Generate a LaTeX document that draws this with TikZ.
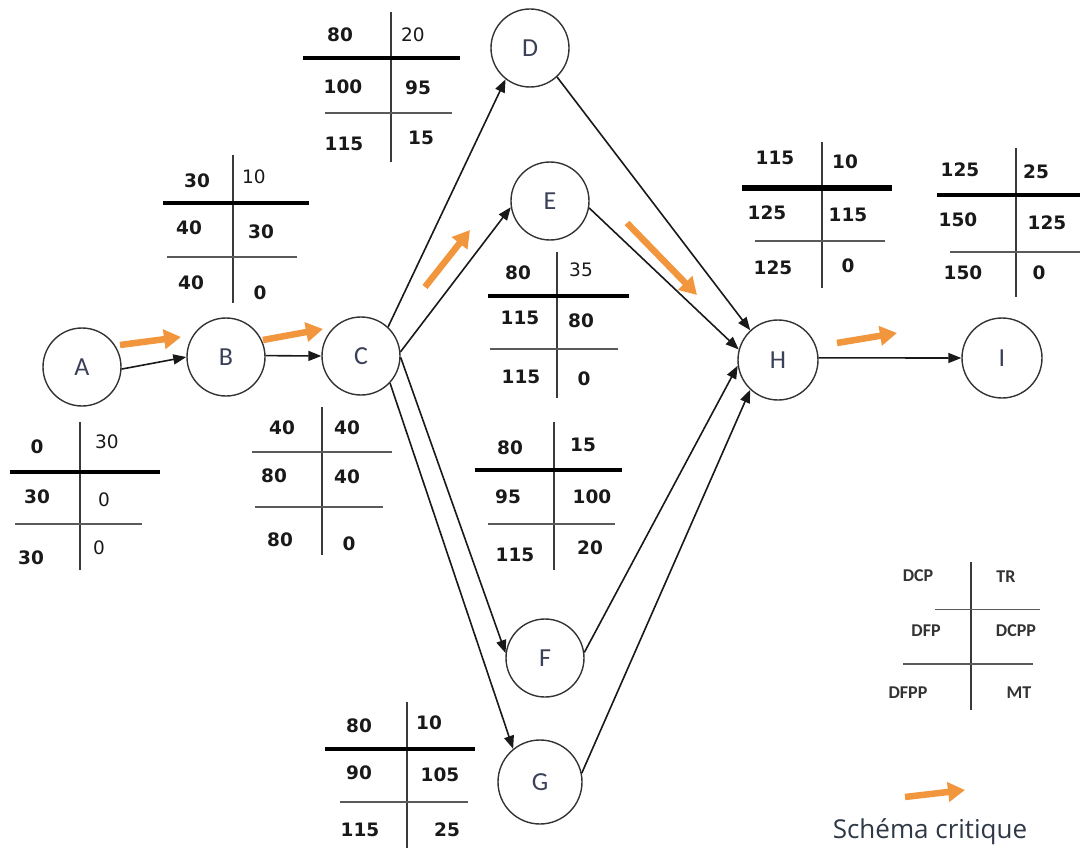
\documentclass[tikz,border=0pt]{standalone}
\usepackage{fontspec}
\usetikzlibrary{arrows.meta}
\newfontfamily\numfont{DejaVu Sans}
\newfontfamily\letfont{Carlito}
\newfontfamily\capfont{Open Sans}
\definecolor{critorange}{HTML}{F2963E}
\definecolor{lettercol}{HTML}{3A4058}
\definecolor{capcol}{HTML}{2E3846}
\definecolor{rulegray}{HTML}{3A3A3A}
\definecolor{thingray}{HTML}{5A5A5A}

\begin{document}
\begin{tikzpicture}[x=1pt,y=-1pt,
  evt/.style={circle, draw=black!80, line width=1.4pt, minimum size=#1,
    inner sep=0pt, font=\letfont\fontsize{26}{28}\selectfont, text=lettercol},
  evt/.default=78pt,
  link/.style={draw=black!90, line width=1.6pt, -{Triangle[length=13pt,width=10pt]}},
  crit/.style={draw=critorange, line width=6.5pt, -{Triangle[length=17pt,width=19pt]}},
  vrule/.style={draw=rulegray, line width=2.2pt},
  hthick/.style={draw=black, line width=4.5pt},
  hthin/.style={draw=thingray, line width=1.6pt},
  num/.style={font=\numfont\bfseries\fontsize{18.5}{20}\selectfont, text=black!90, inner sep=0pt},
  numl/.style={font=\numfont\fontsize{18.5}{20}\selectfont, text=black!90, inner sep=0pt},
  leg/.style={font=\letfont\bfseries\fontsize{18}{20}\selectfont, text=black!80, inner sep=0pt}]

\useasboundingbox (0,0) rectangle (1080,848);

% events
\node[evt] (A) at (82,367) {A};
\node[evt] (B) at (226,357) {B};
\node[evt] (C) at (361,356) {C};
\node[evt] (D) at (530,48) {D};
\node[evt] (E) at (550,201) {E};
\node[evt] (F) at (545,658) {F};
\node[evt=84pt] (G) at (540,782) {G};
\node[evt=80pt] (H) at (778,360) {H};
\node[evt=80pt] (I) at (1002,358) {I};

% tasks
\draw[link] (A.-3) -- (B.180);
\draw[link] (B.2) -- (C.180);
\draw[link] (C.47) -- (D.232);
\draw[link] (C.6) -- (E.189);
\draw[link] (C.-2) -- (F.173);
\draw[link] (C.-43) -- (G.129);
\draw[link] (D.-47) -- (H.133);
\draw[link] (E.-10) -- (H.165);
\draw[link] (F.8) -- (H.188);
\draw[link] (G.12) -- (H.227);
\draw[link] (H.3) -- (I.180);

% critical path markers
\draw[crit] (120,345) -- (181,337);
\draw[crit] (263,340) -- (323,329);
\draw[crit] (425,287) -- (470,230);
\draw[crit] (627,223) -- (697,295);
\draw[crit] (837,343) -- (897,333);

% table A
\draw[vrule] (80,422) -- (80,570);
\draw[hthick] (10,472) -- (160,472);
\draw[hthin] (15,524) -- (142,524);
\node[num]  (a1) at (37,447) {0};
\node[numl] (a2) at (107,442) {30};
\node[num]  (a3) at (37,497) {30};
\node[numl] (a4) at (104,500) {0};
\node[num]  (a5) at (31,558) {30};
\node[numl] (a6) at (99,548) {0};

% table B
\draw[vrule] (233,155) -- (233,303);
\draw[hthick] (163,203) -- (309,203);
\draw[hthin] (167,257) -- (297,257);
\node[num]  (b1) at (197,181) {30};
\node[numl] (b2) at (254,177) {10};
\node[num]  (b3) at (189,228) {40};
\node[num]  (b4) at (261,232) {30};
\node[num]  (b5) at (191,283) {40};
\node[num]  (b6) at (260,293) {0};

% table C
\draw[vrule] (322,407) -- (322,555);
\draw[hthin] (252,452) -- (392,452);
\draw[hthin] (255,507) -- (383,507);
\node[num] (c1) at (282,428) {40};
\node[num] (c2) at (347,428) {40};
\node[num] (c3) at (274,476) {80};
\node[num] (c4) at (347,477) {40};
\node[num] (c5) at (280,540) {80};
\node[num] (c6) at (349,544) {0};

% table D
\draw[vrule] (391,12) -- (391,162);
\draw[hthick] (303,58) -- (460,58);
\draw[hthin] (325,113) -- (452,113);
\node[num]  (d1) at (340,35) {80};
\node[numl] (d2) at (413,35) {20};
\node[num]  (d3) at (343,87) {100};
\node[num]  (d4) at (418,88) {95};
\node[num]  (d5) at (344,144) {115};
\node[num]  (d6) at (421,138) {15};

% table E
\draw[vrule] (557,252) -- (557,398);
\draw[hthick] (488,296) -- (629,296);
\draw[hthin] (490,349) -- (618,349);
\node[num]  (e1) at (518,273) {80};
\node[numl] (e2) at (581,270) {35};
\node[num]  (e3) at (520,318) {115};
\node[num]  (e4) at (581,321) {80};
\node[num]  (e5) at (521,377) {115};
\node[num]  (e6) at (584,379) {0};

% table F
\draw[vrule] (554,422) -- (554,570);
\draw[hthick] (475,470) -- (622,470);
\draw[hthin] (488,524) -- (615,524);
\node[num] (f1) at (510,448) {80};
\node[num] (f2) at (583,445) {15};
\node[num] (f3) at (508,497) {95};
\node[num] (f4) at (592,497) {100};
\node[num] (f5) at (515,555) {115};
\node[num] (f6) at (590,548) {20};

% table G
\draw[vrule] (407,702) -- (407,848);
\draw[hthick] (325,749) -- (475,749);
\draw[hthin] (340,802) -- (468,802);
\node[num] (g1) at (359,726) {80};
\node[num] (g2) at (429,723) {10};
\node[num] (g3) at (359,773) {90};
\node[num] (g4) at (440,775) {105};
\node[num] (g5) at (360,830) {115};
\node[num] (g6) at (447,830) {25};

% table H
\draw[vrule] (822,142) -- (822,288);
\draw[hthick, line width=6pt] (742,188) -- (892,188);
\draw[hthin] (755,241) -- (885,241);
\node[num] (h1) at (775,158) {115};
\node[num] (h2) at (845,162) {10};
\node[num] (h3) at (767,213) {125};
\node[num] (h4) at (848,215) {115};
\node[num] (h5) at (773,268) {125};
\node[num] (h6) at (848,266) {0};

% table I
\draw[vrule] (1016,148) -- (1016,297);
\draw[hthick] (937,195) -- (1080,195);
\draw[hthin] (950,252) -- (1080,252);
\node[num] (i1) at (960,170) {125};
\node[num] (i2) at (1036,172) {25};
\node[num] (i3) at (958,220) {150};
\node[num] (i4) at (1047,223) {125};
\node[num] (i5) at (963,273) {150};
\node[num] (i6) at (1039,273) {0};

% key
\draw[vrule, line width=1.8pt] (971,562) -- (971,710);
\draw[hthin, line width=1pt] (935,609) -- (1040,609);
\draw[hthin, line width=1.8pt] (903,664) -- (1033,664);
\node[leg] (k1) at (918,576) {DCP};
\node[leg] (k2) at (1006,577) {TR};
\node[leg] (k3) at (926,631) {DFP};
\node[leg] (k4) at (1016,631) {DCPP};
\node[leg] (k5) at (908,693) {DFPP};
\node[leg] (k6) at (1019,693) {MT};

\draw[crit] (905,797) -- (965,790);
\node[font=\capfont\fontsize{26}{30}\selectfont, text=capcol, inner sep=0pt] (cap) at (930,832) {Schéma critique};

\end{tikzpicture}
\end{document}
